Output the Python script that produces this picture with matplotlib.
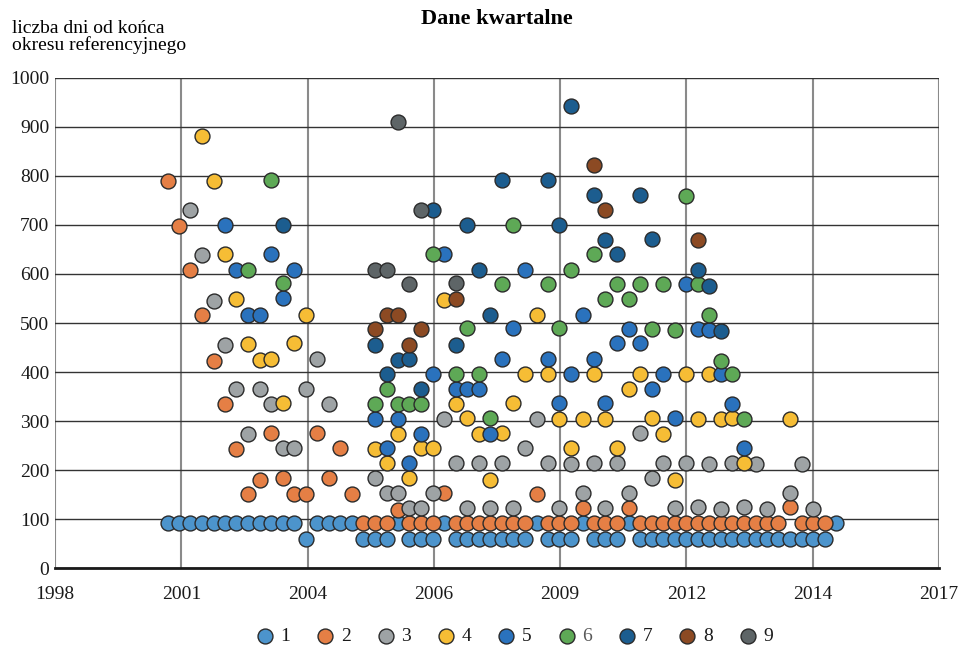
import matplotlib
matplotlib.use("Agg")
import matplotlib.pyplot as plt
import pandas as pd

# quarters (reference periods) and days from the end of the period to each release
quarters = [
    "2000Q4", "2001Q1", "2001Q2", "2001Q3", "2001Q4", "2002Q1", "2002Q2", "2002Q3",
    "2002Q4", "2003Q1", "2003Q2", "2003Q3", "2003Q4", "2004Q1", "2004Q2", "2004Q3",
    "2004Q4", "2005Q1", "2005Q2", "2005Q3", "2005Q4", "2006Q1", "2006Q2", "2006Q3",
    "2006Q4", "2007Q1", "2007Q2", "2007Q3", "2007Q4", "2008Q1", "2008Q2", "2008Q3",
    "2008Q4", "2009Q1", "2009Q2", "2009Q3", "2009Q4", "2010Q1", "2010Q2", "2010Q3",
    "2010Q4", "2011Q1", "2011Q2", "2011Q3", "2011Q4", "2012Q1", "2012Q2", "2012Q3",
    "2012Q4", "2013Q1", "2013Q2", "2013Q3", "2013Q4", "2014Q1", "2014Q2", "2014Q3",
    "2014Q4", "2015Q1", "2015Q2",
]

days_1 = [92, 92, 92, 92, 92, 92, 92, 92, 92, 92, 92, 92, 60, 92, 92, 92, 92,
          60, 60, 60, 92, 60, 60, 60, 92, 60, 60, 60, 60, 60, 60, 60, 92,
          60, 60, 60, 92, 60, 60, 60, 92, 60, 60, 60, 60, 60, 60, 60, 60, 60,
          60, 60, 60, 60, 60, 60, 60, 60, 92]
quarters_1 = quarters

days_2 = [789, 698, 608, 516, 422, 335, 243, 151, 181, 275, 185, 151, 151, 275, 185, 245, 151,
          92, 92, 92, 119, 92, 92, 92, 153, 92, 92, 92, 92, 92, 92, 92, 151,
          92, 92, 92, 122, 92, 92, 92, 122, 92, 92, 92, 92, 92, 92, 92, 92, 92,
          92, 92, 92, 92, 124, 92, 92, 92]
quarters_2 = quarters[:58]

quarters_3 = ["2001Q2", "2001Q3", "2001Q4", "2002Q1", "2002Q2", "2002Q3", "2002Q4", "2003Q1",
              "2003Q2", "2003Q3", "2003Q4", "2004Q1", "2004Q2", "2005Q2", "2005Q3", "2005Q4",
              "2006Q1", "2006Q2", "2006Q3", "2006Q4", "2007Q1", "2007Q2", "2007Q3", "2007Q4",
              "2008Q1", "2008Q2", "2008Q3", "2008Q4", "2009Q1", "2009Q2", "2009Q3", "2009Q4",
              "2010Q1", "2010Q2", "2010Q3", "2010Q4", "2011Q1", "2011Q2", "2011Q3", "2011Q4",
              "2012Q1", "2012Q2", "2012Q3", "2012Q4", "2013Q1", "2013Q2", "2013Q3", "2013Q4",
              "2014Q2", "2014Q3", "2014Q4"]
days_3 = [730, 639, 545, 455, 365, 273, 365, 335, 245, 245, 365, 426, 335, 185, 153, 153,
          122, 122, 153, 304, 214, 122, 214, 122, 214, 122, 245, 304, 214, 122, 212, 153,
          214, 122, 214, 153, 275, 185, 214, 122, 214, 124, 212, 121, 214, 124, 212, 121,
          153, 212, 121]

quarters_4 = ["2001Q3", "2001Q4", "2002Q1", "2002Q2", "2002Q3", "2002Q4", "2003Q1", "2003Q2",
              "2003Q3", "2003Q4", "2005Q2", "2005Q3", "2005Q4", "2006Q1", "2006Q2", "2006Q3",
              "2006Q4", "2007Q1", "2007Q2", "2007Q3", "2007Q4", "2008Q1", "2008Q2", "2008Q3",
              "2008Q4", "2009Q1", "2009Q2", "2009Q3", "2009Q4", "2010Q1", "2010Q2", "2010Q3",
              "2010Q4", "2011Q1", "2011Q2", "2011Q3", "2011Q4", "2012Q1", "2012Q2", "2012Q3",
              "2012Q4", "2013Q1", "2013Q2", "2014Q2"]
days_4 = [882, 789, 640, 548, 457, 425, 427, 336, 459, 516, 243, 214, 273, 185, 245, 245,
          547, 335, 306, 273, 181, 275, 336, 397, 516, 397, 304, 245, 304, 397, 304, 245,
          365, 396, 306, 273, 181, 396, 304, 396, 304, 306, 214, 304]

quarters_5 = ["2002Q1", "2002Q2", "2002Q3", "2002Q4", "2003Q1", "2003Q2", "2003Q3", "2005Q2",
              "2005Q3", "2005Q4", "2006Q1", "2006Q2", "2006Q3", "2006Q4", "2007Q1", "2007Q2",
              "2007Q3", "2007Q4", "2008Q1", "2008Q2", "2008Q3", "2009Q1", "2009Q2", "2009Q3",
              "2009Q4", "2010Q1", "2010Q2", "2010Q3", "2010Q4", "2011Q1", "2011Q2", "2011Q3",
              "2011Q4", "2012Q1", "2012Q2", "2012Q3", "2012Q4", "2013Q1", "2013Q2"]
days_5 = [699, 608, 516, 516, 641, 550, 608, 304, 245, 304, 214, 273, 397, 640, 365, 365,
          365, 273, 426, 489, 608, 426, 336, 397, 516, 426, 336, 459, 487, 459, 365, 397,
          306, 579, 488, 486, 396, 335, 245]

quarters_6 = ["2002Q3", "2003Q1", "2003Q2", "2005Q2", "2005Q3", "2005Q4", "2006Q1", "2006Q2",
              "2006Q3", "2007Q1", "2007Q2", "2007Q3", "2007Q4", "2008Q1", "2008Q2", "2009Q1",
              "2009Q2", "2009Q3", "2010Q1", "2010Q2", "2010Q3", "2010Q4", "2011Q1", "2011Q2",
              "2011Q3", "2011Q4", "2012Q1", "2012Q2", "2012Q3", "2012Q4", "2013Q1", "2013Q2"]
days_6 = [608, 791, 581, 335, 365, 335, 335, 335, 640, 397, 489, 397, 306, 580, 700, 580,
          489, 608, 640, 549, 580, 549, 580, 488, 579, 486, 759, 579, 516, 423, 396, 304]

quarters_7 = ["2003Q2", "2005Q2", "2005Q3", "2005Q4", "2006Q1", "2006Q2", "2006Q3", "2007Q1",
              "2007Q2", "2007Q3", "2007Q4", "2008Q1", "2009Q1", "2009Q2", "2009Q3", "2010Q1",
              "2010Q2", "2010Q3", "2011Q1", "2011Q2", "2012Q2", "2012Q3", "2012Q4"]
days_7 = [699, 455, 397, 425, 426, 365, 730, 455, 700, 608, 516, 791, 791, 700, 942, 761,
          669, 640, 761, 671, 609, 576, 484]

quarters_8 = ["2005Q2", "2005Q3", "2005Q4", "2006Q1", "2006Q2", "2007Q1", "2010Q1", "2010Q2",
              "2012Q2"]
days_8 = [487, 516, 516, 455, 487, 548, 822, 730, 669]

quarters_9 = ["2005Q2", "2005Q3", "2005Q4", "2006Q1", "2006Q2", "2007Q1"]
days_9 = [608, 608, 910, 579, 730, 581]

series_labels = ["1", "2", "3", "4", "5", "6", "7", "8", "9"]
colors = ["#4c94cc", "#e57f45", "#9ea3a5", "#f6bd35", "#2a72bd",
          "#5ea956", "#1c5d8f", "#8c4a23", "#5e6567"]

# x axis is an Excel style date serial, ticks every 1000 days
x_ticks = [36000, 37000, 38000, 39000, 40000, 41000, 42000, 43000]
x_tick_labels = ["1998", "2001", "2004", "2006", "2009", "2012", "2014", "2017"]
y_ticks = [0, 100, 200, 300, 400, 500, 600, 700, 800, 900, 1000]


def to_serial(qs):
    # quarter label -> Excel serial of the last day of the quarter
    ends = [pd.Period(q, freq="Q").end_time.normalize() for q in qs]
    return [(e - pd.Timestamp("1899-12-30")).days for e in ends]


all_series = [
    (quarters_1, days_1), (quarters_2, days_2), (quarters_3, days_3),
    (quarters_4, days_4), (quarters_5, days_5), (quarters_6, days_6),
    (quarters_7, days_7), (quarters_8, days_8), (quarters_9, days_9),
]

plt.rcParams["font.family"] = ["Liberation Serif", "DejaVu Serif"]

fig = plt.figure(figsize=(9.62, 6.49), dpi=100)
ax = fig.add_axes([55 / 962, 1 - 568.3 / 649, (939 - 55) / 962, (568.3 - 77.7) / 649])

for (qs, ds), label, color in zip(all_series, series_labels, colors):
    ax.scatter(to_serial(qs), ds, s=115, c=color, edgecolors="#2b2b2b",
               linewidths=1.0, label=label, zorder=3, clip_on=False)

ax.set_xlim(36000, 43000)
ax.set_ylim(0, 1000)
ax.set_xticks(x_ticks)
ax.set_xticklabels(x_tick_labels)
ax.set_yticks(y_ticks)
ax.tick_params(axis="both", length=0, labelsize=14, colors="#1a1a1a")
ax.tick_params(axis="x", pad=13)
ax.tick_params(axis="y", pad=4)

ax.grid(axis="y", color="#333333", linewidth=1.0, zorder=1)
ax.grid(axis="x", color="#8a8a8a", linewidth=1.5, zorder=1)
for side in ["top", "left", "right"]:
    ax.spines[side].set_visible(False)
ax.spines["bottom"].set_color("#1a1a1a")
ax.spines["bottom"].set_linewidth(2.0)
ax.set_axisbelow(True)

fig.text(497 / 962, 1 - 19 / 649, "Dane kwartalne", ha="center", va="center",
         fontsize=16, fontweight="bold")
fig.text(12 / 962, 1 - 20 / 649, "liczba dni od końca\nokresu referencyjnego",
         ha="left", va="top", fontsize=14, linespacing=0.95)

leg = fig.legend(loc="center", bbox_to_anchor=(515 / 962, 1 - 636 / 649), ncol=9,
                 frameon=False, fontsize=14, handlelength=0.8, handletextpad=0.4,
                 columnspacing=1.4, scatterpoints=1)
for t in leg.get_texts():
    t.set_color("#595959" if t.get_text() == "6" else "#1a1a1a")

fig.savefig("out.png", dpi=100)
